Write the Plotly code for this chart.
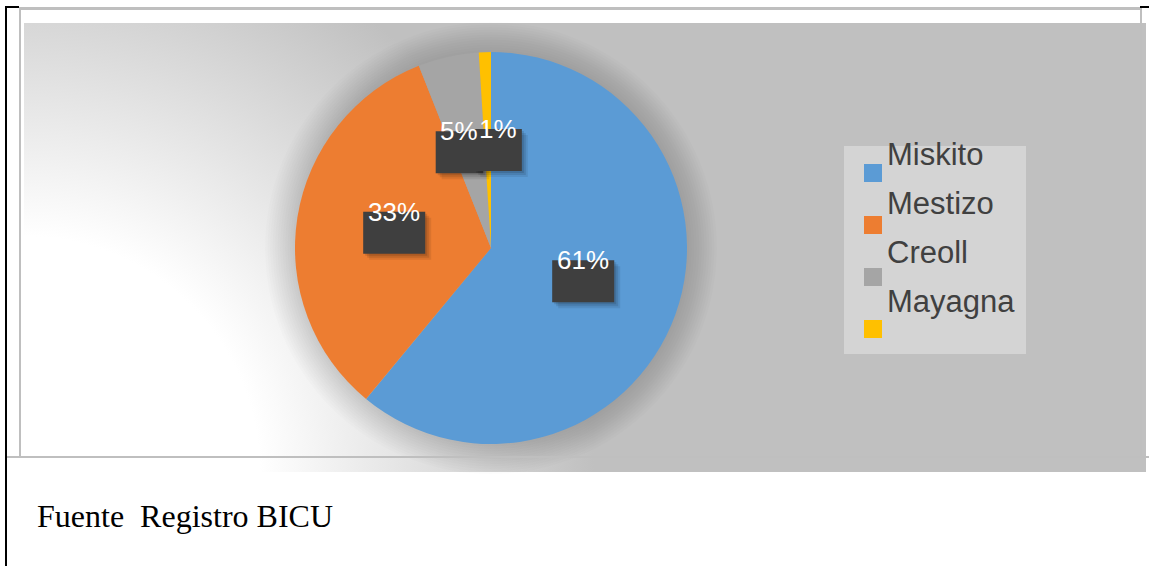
import base64
import math
import plotly.graph_objects as go

W, H = 1149, 566

categories = ["Miskito", "Mestizo", "Creoll", "Mayagna"]
values = [61, 33, 5, 1]
colors = ["#5B9BD5", "#ED7D31", "#A5A5A5", "#FFC000"]
source_text = "Fuente  Registro BICU"


def px(x):
    return x / W


def py(y):
    return 1 - y / H


# chart area and pie geometry (pixels)
CX0, CY0, CX1, CY1 = 24, 23, 1146, 472
PCX, PCY, PR = 491, 248, 196

fig = go.Figure()
fig.add_trace(go.Pie(
    labels=categories, values=values, sort=False, direction="clockwise", rotation=0,
    marker=dict(colors=colors, line=dict(width=0)), textinfo="none", showlegend=False,
    domain=dict(x=[px(PCX - PR), px(PCX + PR)], y=[py(PCY + PR), py(PCY - PR)]),
    hoverinfo="label+percent",
))

# gradient background of chart area as svg image
gw, gh = CX1 - CX0, CY1 - CY0
svg = (
    f'<svg xmlns="http://www.w3.org/2000/svg" width="{gw}" height="{gh}" viewBox="0 0 {gw} {gh}" preserveAspectRatio="none">'
    f'<defs><radialGradient id="g" gradientUnits="userSpaceOnUse" cx="0" cy="{gh}" r="620">'
    '<stop offset="0" stop-color="#ffffff"/><stop offset="0.38" stop-color="#ffffff"/>'
    '<stop offset="0.92" stop-color="#c0c0c0"/><stop offset="1" stop-color="#c0c0c0"/>'
    '</radialGradient></defs>'
    f'<rect x="0" y="0" width="{gw}" height="{gh}" fill="url(#g)"/></svg>'
)
src = "data:image/svg+xml;base64," + base64.b64encode(svg.encode()).decode()
fig.add_layout_image(dict(
    source=src, xref="paper", yref="paper", x=px(CX0), y=py(CY0),
    sizex=gw / W, sizey=gh / H, sizing="stretch", xanchor="left", yanchor="top", layer="below",
))

shapes = []
annotations = []


def rect(x0, y0, x1, y1, fill, layer="above"):
    shapes.append(dict(type="rect", xref="paper", yref="paper", x0=px(x0), x1=px(x1),
                       y0=py(y1), y1=py(y0), fillcolor=fill, line=dict(width=0), layer=layer))


# soft pie shadow
for k in range(12):
    r = PR + 2.5 * (k + 1)
    shapes.append(dict(type="circle", xref="paper", yref="paper", x0=px(PCX - r), x1=px(PCX + r),
                       y0=py(PCY + r), y1=py(PCY - r), fillcolor="rgba(0,0,0,0.011)",
                       line=dict(width=0), layer="below"))

# data labels: position at half radius on each slice's mid-angle
total = sum(values)
labels_pos = []
cum = 0
for lab, v in zip(categories, values):
    mid = (cum + v / 2) / total * 2 * math.pi
    cum += v
    txt = f"{round(100 * v / total)}%"
    tw = 26 * (0.556 * (len(txt) - 1) + 0.889)
    labels_pos.append([PCX + 0.5 * PR * math.sin(mid), PCY - 0.5 * PR * math.cos(mid), txt, tw])

# simple collision avoidance: push horizontally overlapping neighbours apart
for i in range(1, len(labels_pos)):
    a, b = labels_pos[i - 1], labels_pos[i]
    need = (a[3] + b[3]) / 2 + 1
    if abs(a[1] - b[1]) < 30 and abs(a[0] - b[0]) < need:
        m = (a[0] + b[0]) / 2
        sgn = 1 if b[0] >= a[0] else -1
        a[0] = m - sgn * need / 2
        b[0] = m + sgn * need / 2

for bx, by, txt, tw in labels_pos:
    bw, bh = tw + 10, 42
    for off, a in [(6, 0.08), (4, 0.1), (2, 0.12)]:
        rect(bx - bw / 2 + off, by - bh / 2 + off, bx + bw / 2 + off, by + bh / 2 + off, f"rgba(0,0,0,{a})")
    rect(bx - bw / 2, by - bh / 2, bx + bw / 2, by + bh / 2, "#3F3F3F")
    annotations.append(dict(xref="paper", yref="paper", x=px(bx), y=py(by - 21), text=txt,
                            showarrow=False, xanchor="center", yanchor="middle",
                            font=dict(family="Liberation Sans, Arial", size=26, color="#FFFFFF")))

# legend
rect(844, 146, 1026, 354, "#D4D4D4", layer="below")
for i, (lab, c) in enumerate(zip(categories, colors)):
    my = 164 + 52 * i
    rect(864, my, 882, my + 18, c)
    base = 165.5 + 49 * i
    annotations.append(dict(xref="paper", yref="paper", x=px(885), y=py(base - 0.35 * 31), text=lab,
                            showarrow=False, xanchor="left", yanchor="middle",
                            font=dict(family="Liberation Sans, Arial", size=31, color="#404040")))

# source note
annotations.append(dict(xref="paper", yref="paper", x=px(35), y=py(527 - 0.34 * 32), text=source_text,
                        showarrow=False, xanchor="left", yanchor="middle",
                        font=dict(family="Liberation Serif, Times New Roman", size=32, color="#000000")))

# document table frame lines
GR = "#BFBFBF"
rect(19, 7, 1141, 10, GR)          # top gray
rect(19, 7, 21, 457, GR)           # left gray
rect(1140, 7, 1142, 457, GR)       # right gray
rect(5, 456, 1149, 458, GR)        # bottom gray
rect(5, 6, 7, 566, "#000000")      # left black
rect(5, 6, 19, 8, "#000000")       # top-left black stub
rect(1140, 6, 1149, 8, "#000000")  # top-right black stub

fig.update_layout(
    width=W, height=H, margin=dict(l=0, r=0, t=0, b=0),
    paper_bgcolor="#FFFFFF", plot_bgcolor="#FFFFFF", showlegend=False,
    shapes=shapes, annotations=annotations,
)
fig.write_html("out.html", config={"displayModeBar": False},
               post_script="document.body.style.margin='0px';document.body.style.overflow='hidden';")
